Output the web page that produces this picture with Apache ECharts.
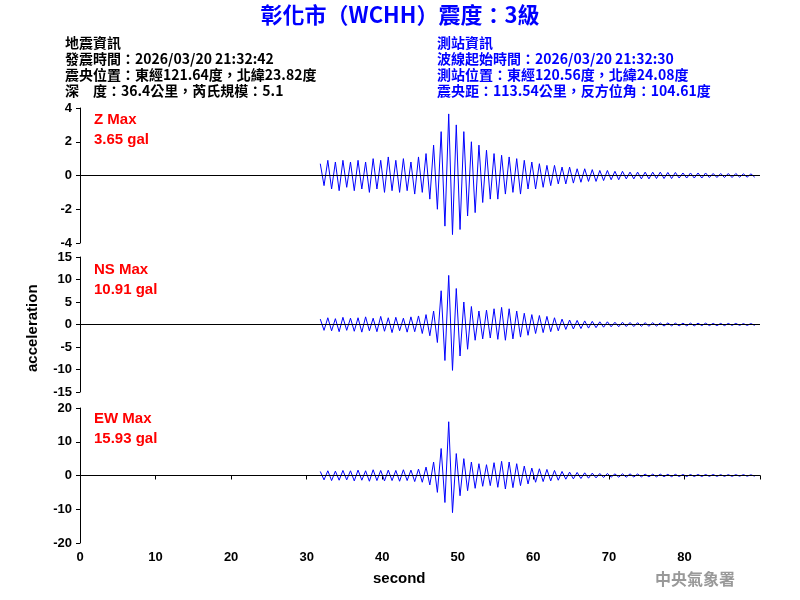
<!DOCTYPE html>
<html><head><meta charset="utf-8">
<script src="https://cdn.jsdelivr.net/npm/echarts@6/dist/echarts.min.js"></script>
<style>body{margin:0}#c{width:800px;height:600px}</style></head>
<body><div id="c"></div>
<script>
// per-second envelope, seconds from 31.8
var startSec = 31.8;
var zHi = [0.7,0.9,0.8,0.9,0.8, 0.9,0.8,1.0,0.9,1.1, 0.9,1.0,0.8,1.1,1.3, 1.8,2.6,3.65,3.0,2.6, 2.0,1.8,1.5,1.3,1.2, 1.1,1.0,0.9,0.8,0.7, 0.6,0.6,0.5,0.5,0.4, 0.4,0.35,0.3,0.3,0.25, 0.25,0.2,0.2,0.2,0.2, 0.2,0.18,0.18,0.15,0.15, 0.15,0.15,0.12,0.12,0.12, 0.12,0.1,0.1];
var zLo = [-0.6,-0.8,-0.9,-0.7,-0.9, -0.8,-1.0,-0.8,-1.0,-0.9, -1.0,-0.9,-1.1,-1.0,-1.4, -2.0,-3.0,-3.5,-3.2,-2.4, -2.2,-1.6,-1.4,-1.4,-1.1, -1.0,-1.1,-0.8,-0.8,-0.7, -0.6,-0.5,-0.5,-0.45,-0.4, -0.35,-0.35,-0.3,-0.25,-0.25, -0.2,-0.2,-0.2,-0.2,-0.18, -0.18,-0.18,-0.15,-0.15,-0.15, -0.15,-0.12,-0.12,-0.12,-0.12, -0.1,-0.1,-0.1];
var nsHi = [1.2,1.5,1.3,1.6,1.4, 1.5,1.7,1.4,1.8,1.5, 1.6,1.4,1.7,1.9,2.2, 3.0,7.5,10.91,8.0,5.0, 4.0,3.0,3.2,3.5,3.8, 3.5,3.0,2.5,2.2,2.0, 1.8,1.5,1.2,1.0,0.9, 0.8,0.7,0.6,0.6,0.5, 0.5,0.45,0.4,0.4,0.4, 0.35,0.35,0.3,0.3,0.3, 0.3,0.3,0.25,0.25,0.25, 0.25,0.2,0.2];
var nsLo = [-1.3,-1.4,-1.6,-1.3,-1.5, -1.7,-1.4,-1.6,-1.5,-1.8, -1.4,-1.7,-1.6,-2.0,-2.5, -4.0,-8.0,-10.2,-7.0,-5.5, -3.5,-3.2,-3.0,-3.3,-3.5, -3.2,-2.8,-2.4,-2.0,-1.8, -1.6,-1.4,-1.1,-1.0,-0.9, -0.8,-0.7,-0.6,-0.5,-0.5, -0.45,-0.45,-0.4,-0.4,-0.35, -0.35,-0.3,-0.3,-0.3,-0.3, -0.25,-0.25,-0.25,-0.25,-0.2, -0.2,-0.2,-0.2];
var ewHi = [1.2,1.4,1.3,1.5,1.4, 1.6,1.4,1.7,1.5,1.6, 1.5,1.7,1.6,1.9,2.5, 4.0,8.0,15.93,6.5,5.0, 4.0,3.5,3.2,3.8,4.2, 4.0,3.5,2.8,2.2,2.0, 1.8,1.5,1.2,1.0,0.9, 0.8,0.7,0.6,0.6,0.5, 0.5,0.5,0.45,0.4,0.4, 0.4,0.35,0.35,0.3,0.3, 0.3,0.3,0.3,0.25,0.25, 0.25,0.25,0.2];
var ewLo = [-1.3,-1.5,-1.4,-1.3,-1.6, -1.4,-1.7,-1.5,-1.6,-1.5, -1.7,-1.5,-1.8,-2.0,-2.8, -5.0,-8.0,-11.0,-6.0,-4.5, -3.8,-3.2,-3.0,-3.5,-4.0, -3.6,-3.0,-2.5,-2.0,-1.8, -1.6,-1.4,-1.1,-1.0,-0.9, -0.8,-0.7,-0.6,-0.5,-0.5, -0.5,-0.45,-0.4,-0.4,-0.4, -0.35,-0.35,-0.3,-0.3,-0.3, -0.3,-0.25,-0.25,-0.25,-0.25, -0.2,-0.2,-0.2];
var xTicks = [0,10,20,30,40,50,60,70,80];

function trace(hi, lo) {
  var pts = [];
  for (var i = 0; i < hi.length; i++) {
    pts.push([startSec + i, hi[i]]);
    pts.push([startSec + i + 0.5, lo[i]]);
  }
  return pts;
}

var chart = echarts.init(document.getElementById('c'));
var grids = [
  {left: 80, width: 680, top: 108, height: 135},
  {left: 80, width: 680, top: 257, height: 135},
  {left: 80, width: 680, top: 408, height: 135}
];
var yRanges = [[-4, 4, 2], [-15, 15, 5], [-20, 20, 10]];
var lbl = {color: '#000', fontWeight: 'bold', fontSize: 13, fontFamily: 'Arial'};
var xAxes = [], yAxes = [], series = [];
var data = [trace(zHi, zLo), trace(nsHi, nsLo), trace(ewHi, ewLo)];
for (var g = 0; g < 3; g++) {
  xAxes.push({gridIndex: g, type: 'value', min: 0, max: 90, interval: 10,
    show: g == 2,
    axisLine: {lineStyle: {color: '#000'}}, axisTick: {length: 4, lineStyle: {color: '#000'}},
    axisLabel: Object.assign({formatter: function (v) { return xTicks.indexOf(v) >= 0 ? v : ''; }}, lbl),
    splitLine: {show: false}});
  yAxes.push({gridIndex: g, type: 'value', min: yRanges[g][0], max: yRanges[g][1], interval: yRanges[g][2],
    axisLine: {show: true, lineStyle: {color: '#000'}}, axisTick: {show: true, length: 4, lineStyle: {color: '#000'}},
    axisLabel: lbl, splitLine: {show: false}});
  series.push({type: 'line', xAxisIndex: g, yAxisIndex: g, data: data[g], symbol: 'none',
    lineStyle: {color: '#0000ff', width: 1}, animation: false,
    markLine: {silent: true, symbol: 'none', label: {show: false},
      lineStyle: {color: '#000', width: 1, type: 'solid'}, data: [{yAxis: 0}]}});
}

var bold = 'bold 14px "Noto Sans CJK TC", sans-serif';
function txt(x, y, s, color, font) {
  return {type: 'text', left: x, top: y, style: {text: s, fill: color, font: font, lineHeight: 20}};
}
chart.setOption({
  animation: false,
  grid: grids, xAxis: xAxes, yAxis: yAxes, series: series,
  graphic: [
    {type: 'text', left: 'center', top: 4, style: {text: '彰化市（WCHH）震度：3級', fill: '#0000ff', font: 'bold 22px "Noto Sans CJK TC", sans-serif'}},
    txt(65, 33, '地震資訊', '#000', bold),
    txt(65, 49, '發震時間：2026/03/20 21:32:42', '#000', bold),
    txt(65, 65, '震央位置：東經121.64度，北緯23.82度', '#000', bold),
    txt(65, 81, '深　度：36.4公里，芮氏規模：5.1', '#000', bold),
    txt(437, 33, '測站資訊', '#0000ff', bold),
    txt(437, 49, '波線起始時間：2026/03/20 21:32:30', '#0000ff', bold),
    txt(437, 65, '測站位置：東經120.56度，北緯24.08度', '#0000ff', bold),
    txt(437, 81, '震央距：113.54公里，反方位角：104.61度', '#0000ff', bold),
    txt(94, 110, 'Z Max\n3.65 gal', '#ff0000', 'bold 15px Arial'),
    txt(94, 260, 'NS Max\n10.91 gal', '#ff0000', 'bold 15px Arial'),
    txt(94, 409, 'EW Max\n15.93 gal', '#ff0000', 'bold 15px Arial'),
    {type: 'text', x: 25, y: 372, rotation: Math.PI / 2, style: {text: 'acceleration', fill: '#000', font: 'bold 15px Arial'}},
    {type: 'text', left: 373, top: 571, style: {text: 'second', fill: '#000', font: 'bold 15px Arial'}},
    {type: 'text', left: 655, top: 571, style: {text: '中央氣象署', fill: '#999', font: 'bold 16px "Noto Sans CJK TC", serif'}}
  ]
});
</script></body></html>
